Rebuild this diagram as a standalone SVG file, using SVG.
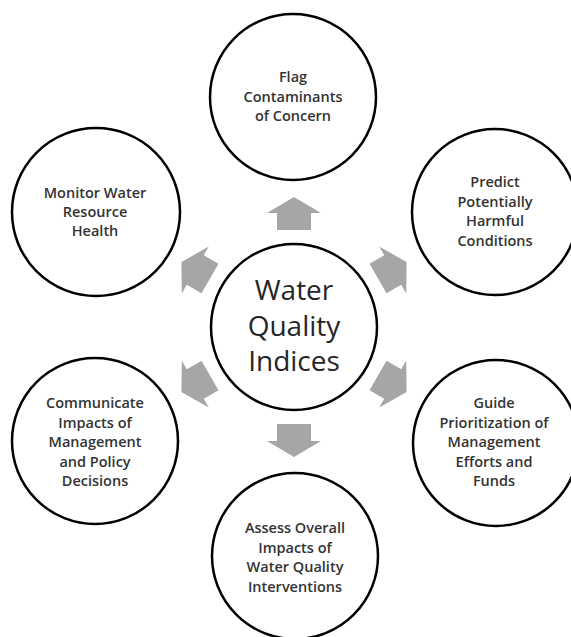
<svg xmlns="http://www.w3.org/2000/svg" width="571" height="637" viewBox="0 0 571 637">
<style>
  .node circle { fill: #ffffff; stroke: #000000; stroke-width: 2.5; }
  .lbl { font-family: "Open Sans", "Liberation Sans", sans-serif; font-size: 14.5px; font-weight: 600; fill: #333333; text-anchor: middle; }
  .big { font-family: "Open Sans", "Liberation Sans", sans-serif; font-size: 28px; fill: #262626; text-anchor: middle; }
  .arrow { fill: #a6a6a6; stroke: none; }
</style>
<defs>
  <path id="arr" d="M0,-130 L27,-114 L17,-114 L17,-97 L-17,-97 L-17,-114 L-27,-114 Z"/>
</defs>
<rect width="571" height="637" fill="#ffffff"/>
<g id="connectors" class="arrow" transform="translate(294,327)">
  <use href="#arr"/>
  <use href="#arr" transform="rotate(60)"/>
  <use href="#arr" transform="rotate(120)"/>
  <use href="#arr" transform="rotate(180)"/>
  <use href="#arr" transform="rotate(240)"/>
  <use href="#arr" transform="rotate(300)"/>
</g>
<g id="center" class="node">
  <circle cx="294" cy="327" r="83"/>
  <text class="big" x="294" y="300">Water</text>
  <text class="big" x="294" y="336">Quality</text>
  <text class="big" x="294" y="371">Indices</text>
</g>
<g id="flag" class="node">
  <circle cx="293" cy="97" r="83"/>
  <text class="lbl" x="293" y="82">Flag</text>
  <text class="lbl" x="293" y="101.5">Contaminants</text>
  <text class="lbl" x="293" y="121">of Concern</text>
</g>
<g id="predict" class="node">
  <circle cx="495" cy="212" r="83"/>
  <text class="lbl" x="495" y="187">Predict</text>
  <text class="lbl" x="495" y="206.5">Potentially</text>
  <text class="lbl" x="495" y="226">Harmful</text>
  <text class="lbl" x="495" y="245.5">Conditions</text>
</g>
<g id="guide" class="node">
  <circle cx="496" cy="443" r="83"/>
  <text class="lbl" x="494" y="408">Guide</text>
  <text class="lbl" x="494" y="427.5">Prioritization of</text>
  <text class="lbl" x="494" y="447">Management</text>
  <text class="lbl" x="494" y="466.5">Efforts and</text>
  <text class="lbl" x="494" y="486">Funds</text>
</g>
<g id="assess" class="node">
  <circle cx="295" cy="556" r="83"/>
  <text class="lbl" x="295" y="533">Assess Overall</text>
  <text class="lbl" x="295" y="552.5">Impacts of</text>
  <text class="lbl" x="295" y="572">Water Quality</text>
  <text class="lbl" x="295" y="591.5">Interventions</text>
</g>
<g id="communicate" class="node">
  <circle cx="95" cy="441" r="83"/>
  <text class="lbl" x="95" y="408">Communicate</text>
  <text class="lbl" x="95" y="427.5">Impacts of</text>
  <text class="lbl" x="95" y="447">Management</text>
  <text class="lbl" x="95" y="466.5">and Policy</text>
  <text class="lbl" x="95" y="486">Decisions</text>
</g>
<g id="monitor" class="node">
  <circle cx="96" cy="212" r="84"/>
  <text class="lbl" x="95" y="198">Monitor Water</text>
  <text class="lbl" x="95" y="217">Resource</text>
  <text class="lbl" x="95" y="236">Health</text>
</g>
</svg>
